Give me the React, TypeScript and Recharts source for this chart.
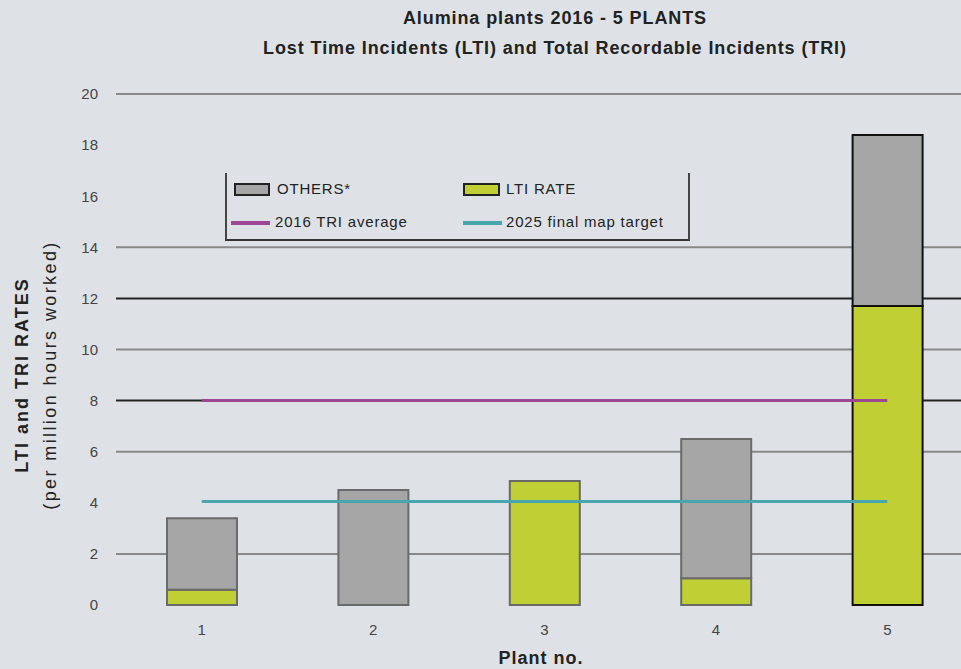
import React from 'react';
import { ComposedChart, Bar, Line, XAxis, YAxis, CartesianGrid, Cell } from 'recharts';

const plants = ['1', '2', '3', '4', '5'];
const ltiRate = [0.6, 0, 4.85, 1.05, 11.7];
const others = [2.8, 4.5, 0, 5.45, 6.7];
const triAverage = [8, 8, 8, 8, 8];
const finalTarget = [4.05, 4.05, 4.05, 4.05, 4.05];
const yTicks = [0, 2, 4, 6, 8, 10, 12, 14, 16, 18, 20];
const greyGrid = [2, 6, 10, 14, 20];
const darkGrid = [8, 12];

const data = plants.map((p, i) => ({
  plant: p,
  lti: ltiRate[i],
  others: others[i],
  avg: triAverage[i],
  target: finalTarget[i],
}));

const FONT = '"Liberation Sans", Arial, sans-serif';

const GREY = '#a6a6a6';
const YELLOW = '#c0cf34';
const PURPLE = '#9c4794';
const CYAN = '#4aa6ae';

const Legend = () => (
  <div
    style={{
      position: 'absolute',
      left: 225,
      top: 173,
      width: 461,
      height: 66,
      borderLeft: '2px solid #444',
      borderRight: '2px solid #444',
      borderBottom: '2px solid #333',
      fontFamily: FONT,
      fontSize: 15,
      letterSpacing: 0.8,
      color: '#222',
    }}
  >
    <div style={{ position: 'absolute', left: 7, top: 10, width: 36, height: 13, background: GREY, border: '2px solid #222', boxSizing: 'border-box' }} />
    <span style={{ position: 'absolute', left: 50, top: 7 }}>OTHERS*</span>
    <div style={{ position: 'absolute', left: 236, top: 10, width: 37, height: 13, background: YELLOW, border: '2px solid #222', boxSizing: 'border-box' }} />
    <span style={{ position: 'absolute', left: 279, top: 7 }}>LTI RATE</span>
    <div style={{ position: 'absolute', left: 4, top: 48, width: 39, height: 4, background: PURPLE }} />
    <span style={{ position: 'absolute', left: 48, top: 40 }}>2016 TRI average</span>
    <div style={{ position: 'absolute', left: 236, top: 48, width: 39, height: 4, background: CYAN }} />
    <span style={{ position: 'absolute', left: 279, top: 40 }}>2025 final map target</span>
  </div>
);

export default function App() {
  return (
    <div
      style={{
        position: 'absolute',
        left: 0,
        top: 0,
        width: 961,
        height: 669,
        overflow: 'hidden',
        background: '#dee2e6',
        fontFamily: FONT,
      }}
    >
      <div
        style={{
          position: 'absolute',
          left: 0,
          width: 1110,
          top: 3,
          textAlign: 'center',
          fontWeight: 'bold',
          fontSize: 18,
          letterSpacing: 0.9,
          color: '#222',
          lineHeight: '30px',
        }}
      >
        Alumina plants 2016 - 5 PLANTS
        <br />
        Lost Time Incidents (LTI) and Total Recordable Incidents (TRI)
      </div>

      <ComposedChart
        width={973}
        height={669}
        data={data}
        margin={{ top: 94, right: 0, left: 76, bottom: 34 }}
        barCategoryGap={0}
      >
        <CartesianGrid vertical={false} horizontalValues={greyGrid} stroke="#888" strokeWidth={2} />
        <CartesianGrid vertical={false} horizontalValues={darkGrid} stroke="#222" strokeWidth={2} />
        <XAxis
          dataKey="plant"
          height={30}
          axisLine={false}
          tickLine={false}
          tickSize={0}
          tickMargin={19}
          tick={{ fill: '#444', fontSize: 15 }}
        />
        <YAxis
          width={40}
          domain={[0, 20]}
          ticks={yTicks}
          axisLine={false}
          tickLine={false}
          tickSize={0}
          tickMargin={18}
          tick={{ fill: '#444', fontSize: 15 }}
        />
        <Bar dataKey="lti" stackId="a" barSize={70} fill={YELLOW} strokeWidth={2} isAnimationActive={false}>
          {data.map((_, i) => (
            <Cell key={i} stroke={i === 4 ? '#111' : '#6a6a6a'} />
          ))}
        </Bar>
        <Bar dataKey="others" stackId="a" barSize={70} fill={GREY} strokeWidth={2} isAnimationActive={false}>
          {data.map((_, i) => (
            <Cell key={i} stroke={i === 4 ? '#111' : '#6a6a6a'} />
          ))}
        </Bar>
        <Line dataKey="avg" stroke={PURPLE} strokeWidth={3} dot={false} isAnimationActive={false} />
        <Line dataKey="target" stroke={CYAN} strokeWidth={3} dot={false} isAnimationActive={false} />
      </ComposedChart>

      <Legend />

      <div
        style={{
          position: 'absolute',
          left: 36,
          top: 375,
          transform: 'translate(-50%, -50%) rotate(-90deg)',
          whiteSpace: 'nowrap',
          textAlign: 'center',
          fontSize: 18,
          color: '#222',
          lineHeight: '28px',
        }}
      >
        <b style={{ letterSpacing: 2 }}>LTI and TRI RATES</b>
        <br />
        <span style={{ letterSpacing: 2.4 }}>(per million hours worked)</span>
      </div>

      <div
        style={{
          position: 'absolute',
          left: 541,
          top: 648,
          transform: 'translateX(-50%)',
          fontWeight: 'bold',
          fontSize: 18,
          letterSpacing: 1,
          color: '#222',
        }}
      >
        Plant no.
      </div>
    </div>
  );
}
